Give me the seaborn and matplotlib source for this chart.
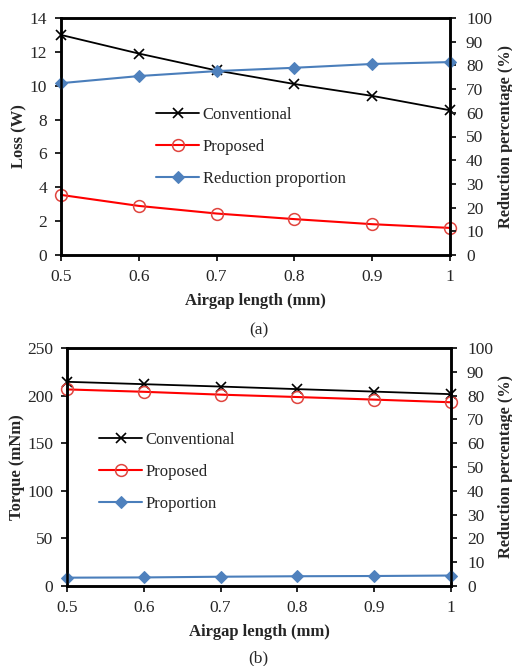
import matplotlib
matplotlib.use("Agg")
import matplotlib.pyplot as plt
import seaborn as sns

# airgap lengths (mm)
airgap = [0.5, 0.6, 0.7, 0.8, 0.9, 1.0]

# (a) loss
loss_conventional = [13.0, 11.9, 10.9, 10.1, 9.4, 8.55]
loss_proposed = [3.55, 2.9, 2.45, 2.12, 1.82, 1.6]
loss_reduction = [72.5, 75.5, 77.6, 79.0, 80.6, 81.4]

# (b) torque
torque_conventional = [214.5, 212.0, 209.5, 206.8, 204.2, 201.5]
torque_proposed = [206.5, 204.0, 201.0, 198.5, 195.8, 193.0]
torque_proportion = [3.5, 3.6, 3.9, 4.1, 4.2, 4.4]

BLUE = "#4A7EBB"
DIAMOND = "#4F81BD"
RED = "#FF0000"
CIRCLE = "#E0443E"

sns.set_theme(style="ticks")
plt.rcParams["font.family"] = ["Liberation Serif", "DejaVu Serif"]
plt.rcParams["axes.linewidth"] = 1.8
plt.rcParams["xtick.major.width"] = 1.4
plt.rcParams["ytick.major.width"] = 1.4
plt.rcParams["xtick.major.size"] = 4
plt.rcParams["ytick.major.size"] = 4

FS = 12.5
LFS = 12

W, H = 512, 666
fig = plt.figure(figsize=(W / 100, H / 100), dpi=100)


def panel(box, left_y, right_y, left_lim, left_step, left_label, names, legend_xy,
          caption, caption_y, left_lab_x):
    x0, y0, x1, y1 = box
    ax = fig.add_axes([x0 / W, 1 - y1 / H, (x1 - x0) / W, (y1 - y0) / H])
    ax2 = ax.twinx()
    sns.lineplot(x=airgap, y=left_y[0], ax=ax, color="black", lw=1.3, marker="x",
                 markersize=7, markeredgewidth=1.2, markeredgecolor="black", label=names[0], legend=False)
    sns.lineplot(x=airgap, y=left_y[1], ax=ax, color=RED, lw=1.5, marker="o",
                 markersize=8.5, markerfacecolor="none", markeredgecolor=CIRCLE,
                 markeredgewidth=1.1, label=names[1], legend=False)
    sns.lineplot(x=airgap, y=right_y, ax=ax2, color=BLUE, lw=1.5, marker="D",
                 markersize=6.5, markerfacecolor=DIAMOND, markeredgecolor=DIAMOND,
                 label=names[2], legend=False)
    ax.set_xlim(0.5, 1.0)
    ax.set_xticks(airgap)
    ax.set_xticklabels(["0.5", "0.6", "0.7", "0.8", "0.9", "1"])
    ax.set_ylim(0, left_lim)
    ax.set_yticks(range(0, left_lim + 1, left_step))
    ax2.set_ylim(0, 100)
    ax2.set_yticks(range(0, 101, 10))
    for a in (ax, ax2):
        a.tick_params(labelsize=FS, direction="out")
        for s in a.spines.values():
            s.set_visible(True)
            s.set_color("black")
        for line in a.lines:
            line.set_clip_on(False)
    ax.tick_params(axis="x", pad=6)
    ax.tick_params(axis="y", pad=6)
    ax2.tick_params(axis="y", pad=7.5)
    ax.set_xlabel("Airgap length (mm)", fontsize=LFS, fontweight="bold", labelpad=6)
    ax.set_ylabel(left_label, fontsize=LFS, fontweight="bold")
    ax.yaxis.set_label_coords((left_lab_x - x0) / (x1 - x0), 0.5)
    ax2.set_ylabel("Reduction percentage (%)", fontsize=11.8, fontweight="bold")
    ax2.yaxis.set_label_coords((497.5 - x0) / (x1 - x0), 0.5)
    h1, l1 = ax.get_legend_handles_labels()
    h2, l2 = ax2.get_legend_handles_labels()
    ax2.legend(h1 + h2, l1 + l2, loc="upper left", bbox_to_anchor=legend_xy,
               bbox_transform=fig.transFigure, frameon=False, fontsize=12,
               handlelength=2.6, handletextpad=0.2, labelspacing=0.95,
               borderpad=0, borderaxespad=0)
    fig.text(0.505, caption_y, caption, ha="center", va="center", fontsize=12.5)
    return ax


panel((61, 18, 450, 255),
      [loss_conventional, loss_proposed], loss_reduction, 14, 2, "Loss (W)",
      ["Conventional", "Proposed", "Reduction proportion"],
      (156 / W, 1 - 107 / H), "(a)", 1 - 330 / H, 27)

panel((67, 348, 451, 586),
      [torque_conventional, torque_proposed], torque_proportion, 250, 50, "Torque (mNm)",
      ["Conventional", "Proposed", "Proportion"],
      (99 / W, 1 - 432 / H), "(b)", 1 - 658 / H, 25)

fig.savefig("out.png", dpi=100)
